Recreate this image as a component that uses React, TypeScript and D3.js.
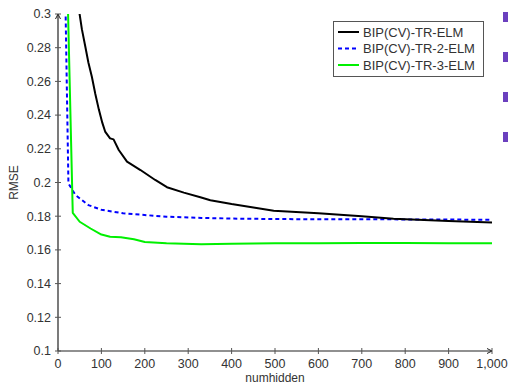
import React from "react";
import * as d3 from "d3";

const seriesNames = ["BIP(CV)-TR-ELM", "BIP(CV)-TR-2-ELM", "BIP(CV)-TR-3-ELM"];
const seriesColors = ["#000000", "#0000ff", "#00f000"];
const seriesDash = ["", "4,3", ""];

const blackN = [40, 48, 55, 63, 70, 78, 86, 94, 102, 109, 120, 128, 140, 159, 190, 224, 251, 290, 328, 351, 400, 497, 600, 700, 773, 900, 1000];
const blackV = [0.33, 0.303, 0.291, 0.2806, 0.2712, 0.2628, 0.2525, 0.2434, 0.2355, 0.230, 0.2262, 0.2256, 0.2193, 0.2124, 0.2074, 0.2015, 0.1972, 0.194, 0.1912, 0.1895, 0.1872, 0.1833, 0.1817, 0.1799, 0.1785, 0.1771, 0.1762];

const blueN = [15, 24, 40, 70, 100, 150, 250, 330, 400, 500, 600, 700, 800, 900, 1000];
const blueV = [0.34, 0.1995, 0.1926, 0.1866, 0.1838, 0.1817, 0.1797, 0.179, 0.1786, 0.1783, 0.1782, 0.1782, 0.1781, 0.178, 0.1779];

const greenN = [15, 34, 50, 75, 100, 120, 145, 175, 200, 250, 330, 400, 500, 600, 700, 800, 900, 1000];
const greenV = [0.39, 0.182, 0.1767, 0.1727, 0.1691, 0.1678, 0.1675, 0.1663, 0.1647, 0.1639, 0.1634, 0.1636, 0.1639, 0.164, 0.1641, 0.1641, 0.164, 0.164];

const xTicks = [0, 100, 200, 300, 400, 500, 600, 700, 800, 900, 1000];
const yTicks = [0.1, 0.12, 0.14, 0.16, 0.18, 0.2, 0.22, 0.24, 0.26, 0.28, 0.3];
const sideMarks = [0, 1, 2, 3];

export default function App() {
  const W = 508, H = 384;
  const left = 58, right = 492, top = 14, bottom = 351;
  const x = d3.scaleLinear().domain([0, 1000]).range([left, right]);
  const y = d3.scaleLinear().domain([0.1, 0.3]).range([bottom, top]);
  const line = d3.line<[number, number]>().x(d => x(d[0])).y(d => y(d[1]));
  const data = [
    blackN.map((n, i) => [n, blackV[i]] as [number, number]),
    blueN.map((n, i) => [n, blueV[i]] as [number, number]),
    greenN.map((n, i) => [n, greenV[i]] as [number, number]),
  ];
  const font = "'Liberation Sans', Arial, sans-serif";
  const tc = "#333";
  const fmtX = d3.format(",");
  return (
    <svg width={W} height={H} style={{ position: "absolute", left: 0, top: 0, background: "#fff" }}
      fontFamily={font}>
      <defs>
        <clipPath id="plot">
          <rect x={left} y={top} width={right - left} height={bottom - top} />
        </clipPath>
      </defs>
      {sideMarks.map(i => (
        <rect key={i} x={503} y={12 + i * 40} width={10} height={10} fill="#6b40be" />
      ))}
      <g clipPath="url(#plot)">
        {[1, 2, 0].map(i => (
          <path key={i} d={line(data[i]) || ""} fill="none" stroke={seriesColors[i]}
            strokeWidth={2} strokeDasharray={seriesDash[i] || undefined} strokeLinejoin="round" />
        ))}
      </g>
      <line x1={left} y1={bottom} x2={left} y2={top} stroke="#222" strokeWidth={1.2} />
      <path d={`M${left - 2.5},${top + 5} L${left},${top} L${left + 2.5},${top + 5}`} fill="none" stroke="#222" strokeWidth={1} />
      <line x1={left} y1={bottom} x2={right} y2={bottom} stroke="#222" strokeWidth={1.2} />
      <path d={`M${right - 5},${bottom - 2.5} L${right},${bottom} L${right - 5},${bottom + 2.5}`} fill="none" stroke="#222" strokeWidth={1} />
      {yTicks.map(t => (
        <g key={t}>
          <line x1={left - 3} x2={left + 3} y1={y(t)} y2={y(t)} stroke="#555" />
          <text x={left - 7} y={y(t)} dy="0.35em" textAnchor="end" fontSize={12.5} fill={tc}>{String(+t.toFixed(2))}</text>
        </g>
      ))}
      {xTicks.map(t => (
        <g key={t}>
          <line x1={x(t)} x2={x(t)} y1={bottom - 3} y2={bottom + 3} stroke="#555" />
          <text x={x(t)} y={bottom + 17} textAnchor="middle" fontSize={12.5} fill={tc}>{fmtX(t)}</text>
        </g>
      ))}
      <text x={(left + right) / 2} y={382} textAnchor="middle" fontSize={12} fill={tc}>numhidden</text>
      <text transform={`translate(18,${(top + bottom) / 2}) rotate(-90)`} textAnchor="middle" fontSize={12} fill={tc}>RMSE</text>
      <rect x={333.5} y={21.5} width={150} height={55} fill="#fff" stroke="#555" strokeWidth={1} />
      {seriesNames.map((s, i) => (
        <g key={s}>
          <line x1={338} x2={359} y1={32 + i * 16.5} y2={32 + i * 16.5} stroke={seriesColors[i]} strokeWidth={2}
            strokeDasharray={seriesDash[i] || undefined} />
          <text x={363} y={32 + i * 16.5} dy="0.35em" fontSize={13} fill={tc}>{s}</text>
        </g>
      ))}
    </svg>
  );
}
